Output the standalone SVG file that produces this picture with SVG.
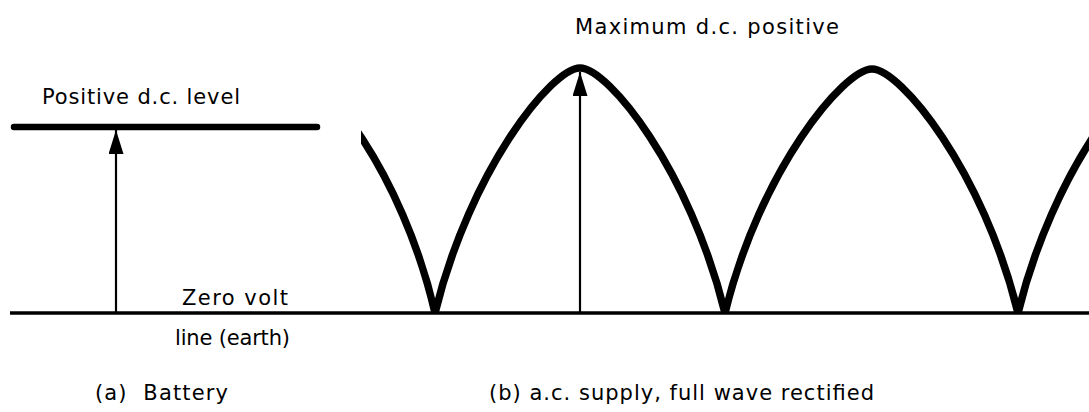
<svg xmlns="http://www.w3.org/2000/svg" width="1089" height="412" viewBox="0 0 1089 412">
  <style>
    .lbl { font-family: "DejaVu Sans", "Liberation Sans", sans-serif; font-size: 21px; fill: #000; }
    .thick { stroke: #000; fill: none; stroke-linecap: round; }
    .arrow { stroke: #000; stroke-width: 2.2; fill: none; }
  </style>
  <defs>
    <marker id="head" viewBox="0 0 24 15" refX="24" refY="7.5" markerWidth="24" markerHeight="15" markerUnits="userSpaceOnUse" orient="auto">
      <path d="M0,0 L24,7.5 L0,15 Z" fill="#000"/>
    </marker>
    <clipPath id="waveClip">
      <rect x="361" y="0" width="728" height="314"/>
    </clipPath>
  </defs>
  <rect width="1089" height="412" fill="#fff"/>

  <g id="battery-level">
    <line class="thick" x1="14" y1="127" x2="317" y2="127" stroke-width="6.5"/>
    <text class="lbl" x="42" y="104" textLength="198" lengthAdjust="spacing">Positive d.c. level</text>
  </g>

  <g id="waveform">
    <path clip-path="url(#waveClip)" d="M292,70 C320,70 402,170 435,313 C470,170 552,68 580,68 C608,68 690,170 725,313 C760,170 844,69 872,69 C900,69 983,170 1018,313 C1053,170 1135,68 1163,68" stroke="#000" stroke-width="7.5" fill="none" stroke-linejoin="miter" stroke-miterlimit="10"/>
    <text class="lbl" x="575" y="34" textLength="264" lengthAdjust="spacing">Maximum d.c. positive</text>
  </g>

  <g id="zero-line">
    <line x1="10" y1="313" x2="1089" y2="313" stroke="#000" stroke-width="3.5"/>
    <text class="lbl" x="182" y="305" textLength="106" lengthAdjust="spacing">Zero volt</text>
    <text class="lbl" x="175" y="345" textLength="115" lengthAdjust="spacing">line (earth)</text>
  </g>

  <g id="captions">
    <text class="lbl" x="95" y="400" textLength="133" lengthAdjust="spacing" xml:space="preserve">(a)  Battery</text>
    <text class="lbl" x="489" y="400" textLength="385" lengthAdjust="spacing">(b) a.c. supply, full wave rectified</text>
  </g>

  <g id="connectors">
    <line class="arrow" x1="116" y1="313" x2="116" y2="130" marker-end="url(#head)"/>
    <line class="arrow" x1="580" y1="313" x2="580" y2="72" marker-end="url(#head)"/>
  </g>
</svg>
